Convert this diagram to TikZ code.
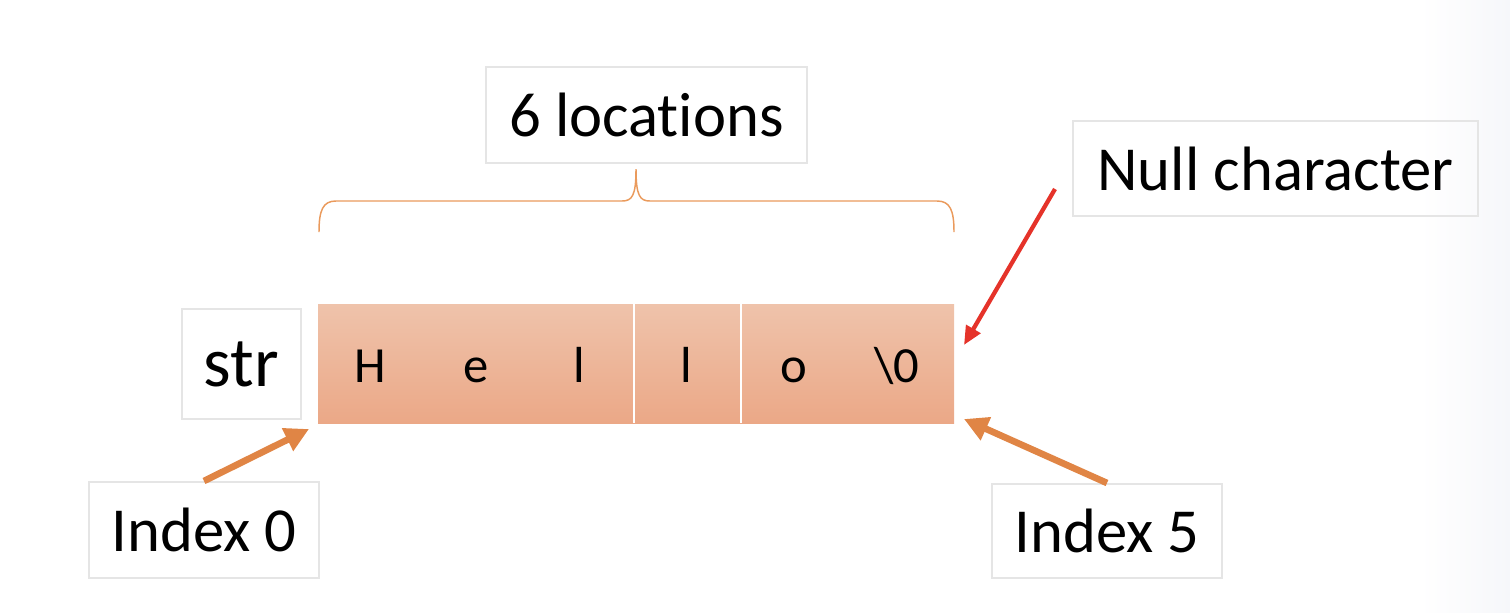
\documentclass[tikz,border=0pt]{standalone}
\usepackage{fontspec}
\setmainfont{Carlito}[RawFeature={-liga}]
\usetikzlibrary{arrows.meta}

\definecolor{boxgray}{RGB}{229,229,229}
\definecolor{celltop}{RGB}{239,195,171}
\definecolor{cellbot}{RGB}{235,168,135}
\definecolor{idxorange}{RGB}{224,133,69}
\definecolor{nullred}{RGB}{229,51,42}
\definecolor{braceorange}{RGB}{234,154,92}
\definecolor{bgfade}{RGB}{246,247,250}

\tikzset{
  lblbox/.style={draw=boxgray, line width=1.5pt, inner sep=0pt, font=\fontsize{47}{56}\selectfont},
  cellchar/.style={anchor=base, inner sep=0pt, font=\fontsize{38}{46}\selectfont},
  idxarrow/.style={draw=idxorange, line width=5pt, -{Triangle[length=18pt,width=18pt,fill=idxorange]}},
  nullarrow/.style={draw=nullred, line width=3.2pt, -{Triangle[length=14pt,width=12pt,fill=nullred]}},
}

\begin{document}
\begin{tikzpicture}[x=0.75pt,y=0.75pt,yscale=-1,xscale=1]
\useasboundingbox (0,0) rectangle (1510,612);
%faint fade at the right edge
\fill [left color=white, right color=bgfade] (1420,0) rectangle (1510,612);

%Shape: Rectangle [id:strrow]
\node [top color=celltop, bottom color=cellbot, minimum width=477pt, minimum height=89.25pt, inner sep=0pt] (strrow) at (636,363.5) {};
%Straight Lines [id:dividers]
\draw [white, line width=1.2pt] (634,304) -- (634,423) ;
\draw [white, line width=1.2pt] (741,304) -- (741,423) ;

% Text Node
\foreach \cx/\ch [count=\ci] in {370/H, 476/e, 579/l, 686/l, 794/o, 897/\textbackslash 0}
  \node [cellchar] (chr\ci) at (\cx,382) {\ch};

% Text Node
\node [lblbox, minimum width=240.75pt, minimum height=72pt] (lbllocs) at (646.5,115) {6 locations};
% Text Node
\node [lblbox, minimum width=304pt, minimum height=71pt] (lblnull) at (1275.5,168.5) {Null character};
% Text Node
\node [lblbox, minimum width=89pt, minimum height=82.5pt, font=\fontsize{53}{62}\selectfont] (lblstr) at (241.5,364) {str};
% Text Node
\node [lblbox, minimum width=172.5pt, minimum height=72pt] (lblidxa) at (204,530) {Index 0};
% Text Node
\node [lblbox, minimum width=172.5pt, minimum height=70.5pt] (lblidxb) at (1107,531) {Index 5};

%Curve Lines [id:brace]
\draw [braceorange, line width=1.1pt] (319,232) .. controls (319,210) and (323,201) .. (336,201) -- (622,201) .. controls (632,201) and (636,196) .. (636,169) .. controls (636,196) and (640,201) .. (650,201) -- (937,201) .. controls (950,201) and (954,210) .. (954,232) ;

%Straight Lines [id:arrows]
\coordinate (tipidxa) at (309,429);
\coordinate (tipidxb) at (964,419);
\coordinate (tailnull) at (1055,189);
\coordinate (tipnull) at (964,345);
\draw [idxarrow] (lblidxa.north) -- (tipidxa) ;
\draw [idxarrow] (lblidxb.north) -- (tipidxb) ;
\draw [nullarrow] (tailnull) -- (tipnull) ;

\end{tikzpicture}
\end{document}
